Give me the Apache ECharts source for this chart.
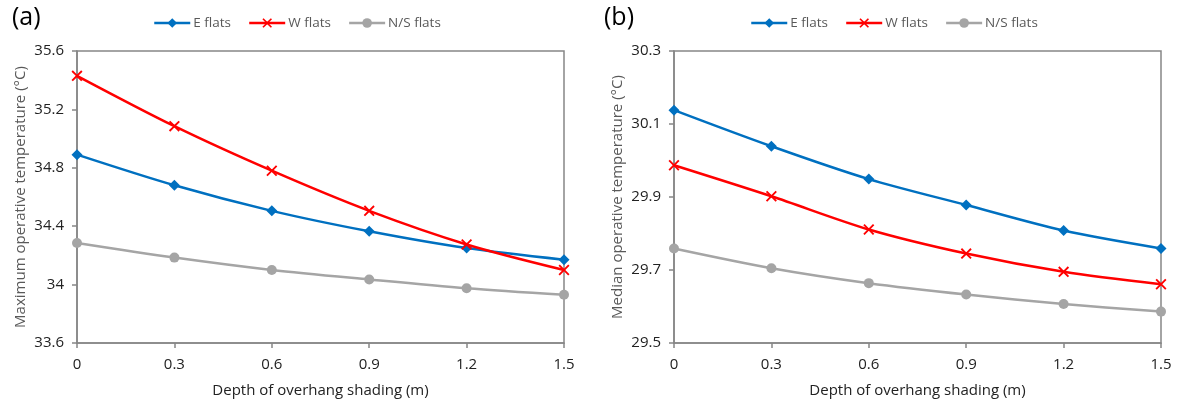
<!DOCTYPE html>
<html>
<head>
<meta charset="utf-8">
<script src="https://cdn.jsdelivr.net/npm/echarts@6/dist/echarts.min.js"></script>
<style>
html,body{margin:0;padding:0;background:#fff;}
#chart{width:1178px;height:405px;}
</style>
</head>
<body>
<div id="chart"></div>
<script>
// Data
var depth = [0, 0.3, 0.6, 0.9, 1.2, 1.5];
var seriesNames = ['E flats', 'W flats', 'N/S flats'];
var maxE  = [34.89, 34.68, 34.505, 34.365, 34.25, 34.17];
var maxW  = [35.43, 35.085, 34.78, 34.505, 34.275, 34.10];
var maxNS = [34.285, 34.185, 34.10, 34.035, 33.975, 33.93];
var medE  = [30.138, 30.039, 29.949, 29.878, 29.808, 29.759];
var medW  = [29.987, 29.902, 29.811, 29.745, 29.695, 29.661];
var medNS = [29.759, 29.705, 29.664, 29.633, 29.607, 29.586];
var panelLabels = ['(a)', '(b)'];
var yNames = ['Maximum operative temperature (°C)', 'Median operative temperature (°C)'];
var xName = 'Depth of overhang shading (m)';

var FONT = 'Open Sans';
var colors = ['#0070C0', '#FF0000', '#A5A5A5'];
var xSym = 'path://M0,1.2L1.2,0L5,3.8L8.8,0L10,1.2L6.2,5L10,8.8L8.8,10L5,6.2L1.2,10L0,8.8L3.8,5Z';
var symbols = ['diamond', xSym, 'circle'];
var symSizes = [11, 11, 10];

function pairs(ys) { return depth.map(function (x, i) { return [x, ys[i]]; }); }

var chart = echarts.init(document.getElementById('chart'), null, {renderer: 'canvas'});

var axisLineColor = '#868686';
function fmt(v) { return String(+v.toFixed(1)); }
function xAxisCfg(gi) {
  return {
    type: 'value', gridIndex: gi, min: 0, max: 1.5, interval: 0.3,
    name: xName, nameLocation: 'middle', nameGap: 40,
    nameTextStyle: {fontFamily: FONT, fontSize: 15, color: '#222'},
    axisLine: {show: true, lineStyle: {color: axisLineColor, width: 1.5}},
    axisTick: {show: true, inside: false, length: 5, lineStyle: {color: axisLineColor, width: 1.5}},
    axisLabel: {fontFamily: FONT, fontSize: 15, color: '#222', margin: 14, formatter: fmt},
    splitLine: {show: false}
  };
}
function yAxisCfg(gi, min, max, interval, name) {
  return {
    type: 'value', gridIndex: gi, min: min, max: max, interval: interval,
    name: name, nameLocation: 'middle', nameGap: 49,
    nameTextStyle: {fontFamily: FONT, fontSize: 15, color: '#595959'},
    axisLine: {show: true, lineStyle: {color: axisLineColor, width: 1.5}},
    axisTick: {show: true, inside: false, length: 5, lineStyle: {color: axisLineColor, width: 1.5}},
    axisLabel: {fontFamily: FONT, fontSize: 15, color: '#222', margin: 13, formatter: fmt},
    splitLine: {show: false}
  };
}

function mkSeries(idx, gi, ys) {
  return {
    name: seriesNames[idx], type: 'line', xAxisIndex: gi, yAxisIndex: gi,
    data: pairs(ys), smooth: 0.3,
    symbol: symbols[idx], symbolSize: symSizes[idx], showSymbol: true,
    lineStyle: {color: colors[idx], width: 2.5},
    itemStyle: {color: colors[idx], borderWidth: 0},
    z: idx === 1 ? 4 : 3
  };
}

function legendCfg(left) {
  return {
    left: left, top: 16, padding: 0, itemWidth: 36, itemHeight: 12, itemGap: 17,
    lineStyle: {width: 2.5},
    textStyle: {fontFamily: FONT, fontSize: 13.5, color: '#595959', padding: [0, 0, 0, -2]},
    data: seriesNames.slice()
  };
}

var option = {
  animation: false,
  backgroundColor: '#fff',
  grid: [
    {left: 77, right: 614, top: 51, bottom: 62, show: true, borderColor: axisLineColor, borderWidth: 1.5},
    {left: 674, right: 17, top: 51, bottom: 62, show: true, borderColor: axisLineColor, borderWidth: 1.5}
  ],
  legend: [legendCfg(153), legendCfg(750)],
  graphic: [
    {type: 'text', left: 12, top: 5, style: {text: panelLabels[0], font: '25px ' + FONT, fill: '#000'}},
    {type: 'text', left: 604, top: 5, style: {text: panelLabels[1], font: '25px ' + FONT, fill: '#000'}}
  ],
  xAxis: [xAxisCfg(0), xAxisCfg(1)],
  yAxis: [yAxisCfg(0, 33.6, 35.6, 0.4, yNames[0]), yAxisCfg(1, 29.5, 30.3, 0.2, yNames[1])],
  series: [
    mkSeries(0, 0, maxE), mkSeries(1, 0, maxW), mkSeries(2, 0, maxNS),
    mkSeries(0, 1, medE), mkSeries(1, 1, medW), mkSeries(2, 1, medNS)
  ]
};
chart.setOption(option);
</script>
</body>
</html>
